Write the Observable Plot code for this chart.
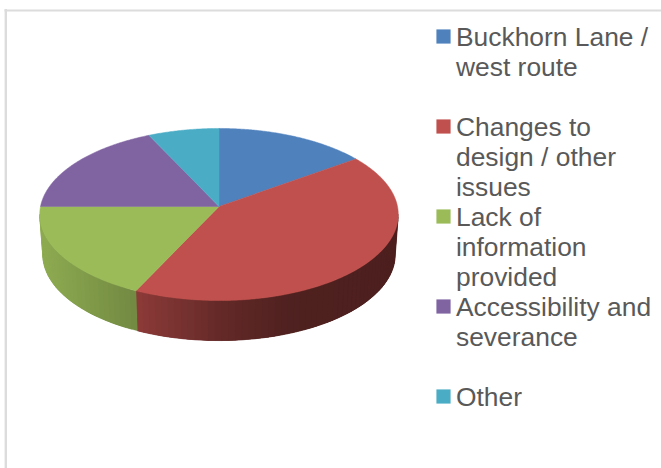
<!DOCTYPE html>
<html>
<head>
<meta charset="utf-8">
<script src="https://cdn.jsdelivr.net/npm/d3@7"></script>
<script src="https://cdn.jsdelivr.net/npm/@observablehq/plot@0.6"></script>
<style>html,body{margin:0;padding:0;background:#fff}svg{display:block}</style>
</head>
<body>
<div id="chart"></div>
<script>
const categories = ["Buckhorn Lane / west route", "Changes to design / other issues", "Lack of information provided", "Accessibility and severance", "Other"];
const shares = [15, 42, 18, 18, 7];
const colors = ["#4f81bd", "#c0504d", "#9bbb59", "#8064a2", "#4bacc6"];
const legendLines = [
  ["Buckhorn Lane /", "west route"],
  ["Changes to", "design / other", "issues"],
  ["Lack of", "information", "provided"],
  ["Accessibility and", "severance"],
  ["Other"]
];

// Perspective disc geometry
const W = 661, H = 468;
const cx = 218.5, cy = 206, rx = 178.5, ry = 85.3, k = 0.093, depth = 40, bottomScale = 0.983;
const project = (a, lower = false) => {
  const s = 1 / (1 + k * Math.cos(a));
  const sx = rx * Math.sin(a) * s * (lower ? bottomScale : 1);
  const sy = -ry * Math.cos(a) * s + (lower ? depth : 0);
  return [cx + sx, cy + sy];
};
const arcs = d3.pie().sort(null)(shares);
const deg = Math.PI / 180;
const shade = d3.scaleLinear().domain([39, 136, 220, 290, 400]).range([0.92, 0.73, 0.52, 0.41, 0.40]).clamp(true);

const topPts = [];
arcs.forEach((arc, i) => {
  const n = Math.ceil((arc.endAngle - arc.startAngle) / deg) * 2;
  topPts.push({id: "t" + i, color: colors[i], p: [cx, cy]});
  for (let j = 0; j <= n; j++) {
    const a = arc.startAngle + (arc.endAngle - arc.startAngle) * j / n;
    topPts.push({id: "t" + i, color: colors[i], p: project(a)});
  }
  topPts.push({id: "t" + i, color: colors[i], p: [cx, cy]});
});

// Only the front of the wall is seen: the silhouette lies where cos(angle) = -k.
// Each band runs on under the next one, so no white shows through the seams.
const frontFrom = Math.acos(-k), frontTo = 2 * Math.PI - frontFrom;
const wallPts = [];
arcs.forEach((arc, i) => {
  const a0 = Math.max(arc.startAngle, frontFrom), a1 = Math.min(arc.endAngle, frontTo);
  if (a1 <= a0) return;
  const n = Math.ceil((a1 - a0) / (2 * deg));
  const step = (a1 - a0) / n;
  for (let j = 0; j < n; j++) {
    const a = a0 + step * j;
    const col = d3.rgb(colors[i]);
    const f = shade(project(a + step / 2)[0]);
    const c = d3.rgb(col.r * f, col.g * f, col.b * f).formatHex();
    const id = `w${i}-${j}`;
    const m = Math.min(n, j + 3);
    const edge = [];
    for (let q = j; q <= m; q++) edge.push(a0 + step * q);
    const ring = [...edge.map(x => project(x)), ...edge.slice().reverse().map(x => project(x, true)), project(a)];
    ring.forEach(p => wallPts.push({id, color: c, p}));
  }
});

// Legend rows: each entry starts on a third row of the column
const rowBase = 45, rowStep = 30;
const legendText = legendLines.flatMap((lines, i) =>
  lines.map((t, j) => ({text: t, y: rowBase + (i * 3 + j) * rowStep})));
const legendSwatches = categories.map((c, i) => ({c, y: rowBase + i * 3 * rowStep - 9, color: colors[i]}));

const slab = (data, strokeWidth) => Plot.line(data, {
  x: d => d.p[0], y: d => d.p[1], z: "id", fill: "color", stroke: "color", strokeWidth, curve: "linear"
});

const chart = Plot.plot({
  width: W, height: H, margin: 0,
  x: {domain: [0, W], range: [0, W], axis: null},
  y: {domain: [0, H], range: [0, H], axis: null},
  color: {type: "identity"},
  style: {background: "#fff", fontFamily: "'Liberation Sans', Arial, sans-serif"},
  marks: [
    Plot.ruleY([10], {x1: 4.5, x2: W, stroke: "#dcdcdc", strokeWidth: 2}),
    Plot.ruleX([5.3], {y1: 9, y2: H, stroke: "#dcdcdc", strokeWidth: 2.4}),
    slab(wallPts, 0.3),
    slab(topPts, 0.5),
    Plot.dot(legendSwatches, {x: () => 443, y: "y", symbol: "square", r: 8, fill: "color", stroke: null}),
    Plot.text(legendText, {
      x: () => 455.5, y: "y", text: "text", textAnchor: "start", lineAnchor: "bottom",
      fontSize: 26.4, fill: "#595959"
    })
  ]
});
document.getElementById("chart").appendChild(chart);
</script>
</body>
</html>
